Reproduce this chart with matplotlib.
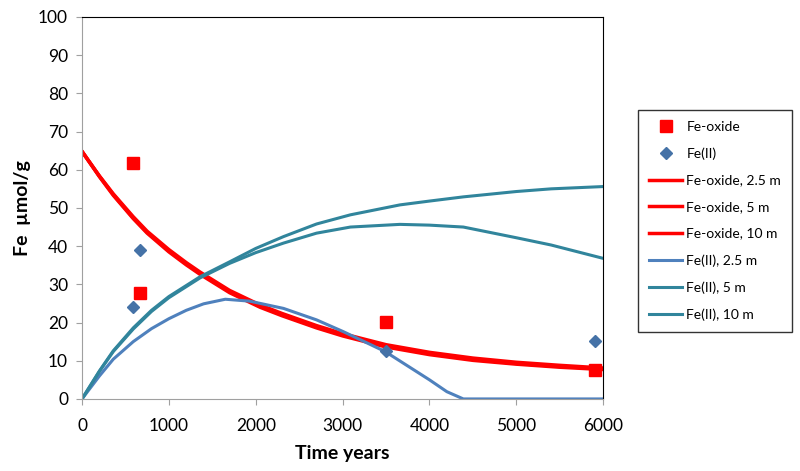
import matplotlib
matplotlib.use("Agg")
import matplotlib.pyplot as plt

plt.rcParams["font.family"] = ["Lato", "DejaVu Sans"]

# measured points
oxide_t = [590, 670, 3500, 5900]
oxide_v = [61.8, 27.7, 20.2, 7.6]
fe2_t = [590, 670, 3500, 5900]
fe2_v = [24.1, 39.0, 12.6, 15.2]

# model curves
t_ox = [0, 200, 360, 590, 750, 1000, 1200, 1360, 1700, 2050, 2300, 2700, 3000, 3500,
        4000, 4500, 5000, 5500, 6000]
ox_25 = [64.8, 58.2, 53.3, 47.2, 43.4, 38.5, 35.1, 32.6, 27.8, 24.0, 21.8, 18.6, 16.5, 13.6,
         11.6, 10.1, 9.1, 8.3, 7.7]
ox_5 = [64.8, 58.3, 53.5, 47.4, 43.6, 38.8, 35.4, 32.9, 28.1, 24.3, 22.1, 18.9, 16.8, 13.9,
        11.9, 10.4, 9.3, 8.5, 7.9]
ox_10 = [64.8, 58.4, 53.7, 47.7, 43.9, 39.1, 35.7, 33.2, 28.4, 24.6, 22.4, 19.2, 17.1, 14.2,
         12.2, 10.7, 9.6, 8.8, 8.1]

t_fe = [0, 200, 360, 590, 800, 1000, 1200, 1400, 1650, 1930, 2320, 2700, 3010, 3490,
        4000, 4200, 4390, 5000, 6000]
fe2_25 = [0, 6.0, 10.4, 15.0, 18.4, 21.0, 23.2, 24.9, 26.1, 25.6, 23.7, 20.7, 17.6, 12.4,
          5.0, 1.9, 0, 0, 0]

t_fe5 = [0, 200, 360, 590, 800, 1000, 1360, 1700, 2000, 2320, 2700, 3090, 3660, 4000,
         4390, 5000, 5400, 6000]
fe2_5 = [0, 7.2, 12.4, 18.3, 22.9, 26.5, 31.7, 35.5, 38.3, 40.8, 43.4, 45.0, 45.7, 45.5,
         45.0, 42.2, 40.3, 36.8]
fe2_10 = [0, 7.3, 12.6, 18.6, 23.2, 26.8, 32.0, 35.9, 39.4, 42.5, 45.8, 48.2, 50.8, 51.8,
          52.9, 54.3, 55.0, 55.6]

red = "#FF0000"
blue = "#4F81BD"
teal = "#31859C"

fig = plt.figure(figsize=(8, 4.71), dpi=100)
ax = fig.add_axes([0.1025, 0.153, 0.6515, 0.811])

ax.plot(oxide_t, oxide_v, "s", color=red, markersize=8, label="Fe-oxide", zorder=5)
ax.plot(fe2_t, fe2_v, "D", color="#4572A7", markersize=6.5, label="Fe(II)", zorder=5)
ax.plot(t_ox, ox_25, color=red, lw=2.5, label="Fe-oxide, 2.5 m")
ax.plot(t_ox, ox_5, color=red, lw=2.5, label="Fe-oxide, 5 m")
ax.plot(t_ox, ox_10, color=red, lw=2.5, label="Fe-oxide, 10 m")
ax.plot(t_fe, fe2_25, color=blue, lw=2.2, label="Fe(II), 2.5 m")
ax.plot(t_fe5, fe2_5, color=teal, lw=2.2, label="Fe(II), 5 m")
ax.plot(t_fe5, fe2_10, color=teal, lw=2.2, label="Fe(II), 10 m")

ax.set_xlim(0, 6000)
ax.set_ylim(0, 100)
ax.set_xticks(range(0, 6001, 1000))
ax.set_yticks(range(0, 101, 10))
ax.tick_params(labelsize=12.5, length=4, color="#A0A0A0", pad=6)
ax.tick_params(axis="x", pad=10)
for s in ["left", "bottom"]:
    ax.spines[s].set_color("#A0A0A0")
for s in ["top", "right"]:
    ax.spines[s].set_color("black")
ax.set_xlabel("Time years", fontsize=14, fontweight="bold", labelpad=8)
ax.set_ylabel("Fe  \u00b5mol/g", fontsize=14, fontweight="bold", labelpad=5)

leg = fig.legend(loc="center", bbox_to_anchor=(0.8, 0.291, 0.1875, 0.48),
                 fontsize=10, frameon=True, fancybox=False, edgecolor="black",
                 handlelength=2.4, labelspacing=1.05, borderpad=0.8, handletextpad=0.3)
leg.get_frame().set_linewidth(1.0)

fig.savefig("out.png", dpi=100)
